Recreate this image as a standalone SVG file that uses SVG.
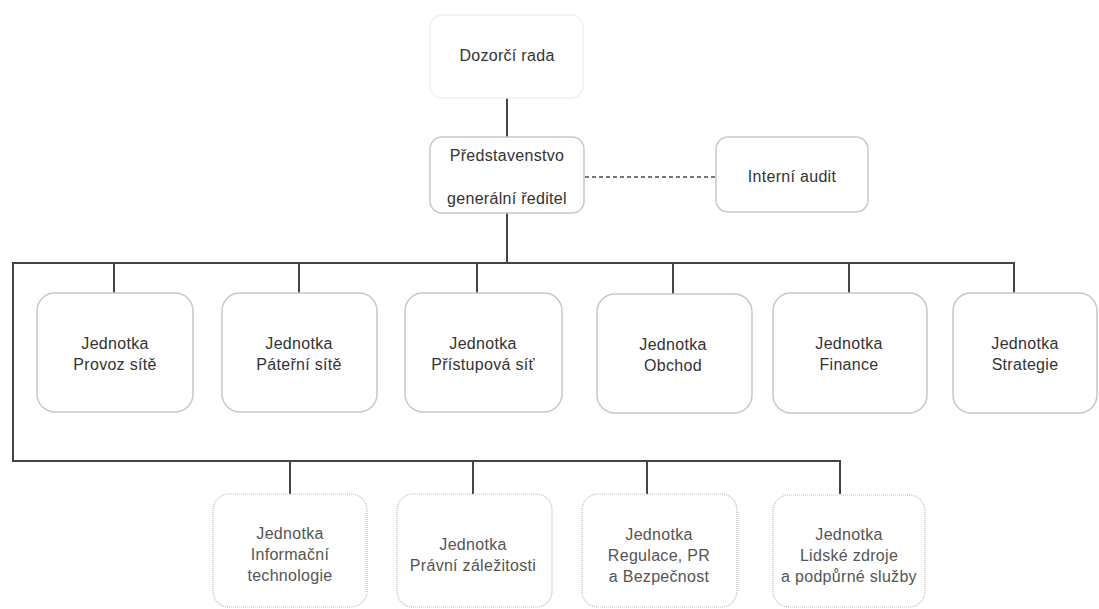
<svg xmlns="http://www.w3.org/2000/svg" width="1099" height="609" viewBox="0 0 1099 609">
<style>
  text { font-family: "Liberation Sans", Arial, sans-serif; font-size: 16px; letter-spacing: 0.3px; text-anchor: middle; fill: #333; }
  .box { fill: #fff; stroke: #c8c8c8; stroke-width: 1.5; }
  .faint { fill: #fff; stroke: #efefef; stroke-width: 1.5; }
  .dot { fill: #fff; stroke: #bdbdbd; stroke-width: 1.2; stroke-dasharray: 1 1; }
  .lt { fill: #555; }
  .ln { stroke: #444; stroke-width: 2; fill: none; }
  .dash { stroke: #777; stroke-width: 2; stroke-dasharray: 4 3; fill: none; }
</style>
<rect width="1099" height="609" fill="#fff"/>
<g id="connectors">
  <line class="ln" x1="507" y1="98" x2="507" y2="137"/>
  <line class="ln" x1="507" y1="213" x2="507" y2="263"/>
  <line class="dash" x1="585" y1="177" x2="716" y2="177"/>
  <line class="ln" x1="13" y1="263" x2="1015" y2="263"/>
  <line class="ln" x1="114" y1="263" x2="114" y2="293"/>
  <line class="ln" x1="299" y1="263" x2="299" y2="293"/>
  <line class="ln" x1="477" y1="263" x2="477" y2="293"/>
  <line class="ln" x1="673" y1="263" x2="673" y2="294"/>
  <line class="ln" x1="849" y1="263" x2="849" y2="293"/>
  <line class="ln" x1="1014" y1="263" x2="1014" y2="293"/>
  <line class="ln" x1="13" y1="262" x2="13" y2="462"/>
  <line class="ln" x1="12" y1="461" x2="841" y2="461"/>
  <line class="ln" x1="290" y1="461" x2="290" y2="494"/>
  <line class="ln" x1="473" y1="461" x2="473" y2="494"/>
  <line class="ln" x1="647" y1="461" x2="647" y2="494"/>
  <line class="ln" x1="840" y1="461" x2="840" y2="494"/>
</g>
<g id="dozorci-rada">
  <rect class="faint" x="430" y="15" width="153" height="83" rx="12"/>
  <text x="507" y="61">Dozorčí rada</text>
</g>
<g id="predstavenstvo">
  <rect class="box" x="430" y="137" width="154" height="76" rx="12"/>
  <text x="507" y="161">Představenstvo</text>
  <text x="507" y="204">generální ředitel</text>
</g>
<g id="interni-audit">
  <rect class="box" x="716" y="137" width="152" height="75" rx="12"/>
  <text x="792" y="182">Interní audit</text>
</g>
<g id="provoz-site">
  <rect class="box" x="37" y="293" width="156" height="119" rx="18"/>
  <text x="115" y="349">Jednotka</text>
  <text x="115" y="370">Provoz sítě</text>
</g>
<g id="paterni-site">
  <rect class="box" x="222" y="293" width="155" height="119" rx="18"/>
  <text x="299" y="349">Jednotka</text>
  <text x="299" y="370">Páteřní sítě</text>
</g>
<g id="pristupova-sit">
  <rect class="box" x="405" y="293" width="157" height="119" rx="18"/>
  <text x="483" y="349">Jednotka</text>
  <text x="483" y="370">Přístupová síť</text>
</g>
<g id="obchod">
  <rect class="box" x="597" y="294" width="155" height="119" rx="18"/>
  <text x="673" y="350">Jednotka</text>
  <text x="673" y="371">Obchod</text>
</g>
<g id="finance">
  <rect class="box" x="773" y="293" width="154" height="120" rx="18"/>
  <text x="849" y="349">Jednotka</text>
  <text x="849" y="370">Finance</text>
</g>
<g id="strategie">
  <rect class="box" x="953" y="293" width="144" height="120" rx="18"/>
  <text x="1025" y="349">Jednotka</text>
  <text x="1025" y="370">Strategie</text>
</g>
<g id="informacni-technologie">
  <rect class="dot" x="213" y="494" width="154" height="113" rx="16"/>
  <text class="lt" x="290" y="539">Jednotka</text>
  <text class="lt" x="290" y="560">Informační</text>
  <text class="lt" x="290" y="581">technologie</text>
</g>
<g id="pravni-zalezitosti">
  <rect class="dot" x="397" y="494" width="155" height="113" rx="16"/>
  <text class="lt" x="473" y="550">Jednotka</text>
  <text class="lt" x="473" y="571">Právní záležitosti</text>
</g>
<g id="regulace">
  <rect class="dot" x="582" y="494" width="155" height="113" rx="16"/>
  <text class="lt" x="659" y="540">Jednotka</text>
  <text class="lt" x="659" y="561">Regulace, PR</text>
  <text class="lt" x="659" y="582">a Bezpečnost</text>
</g>
<g id="lidske-zdroje">
  <rect class="dot" x="773" y="495" width="152" height="112" rx="16"/>
  <text class="lt" x="849" y="540">Jednotka</text>
  <text class="lt" x="849" y="561">Lidské zdroje</text>
  <text class="lt" x="849" y="582">a podpůrné služby</text>
</g>
</svg>
